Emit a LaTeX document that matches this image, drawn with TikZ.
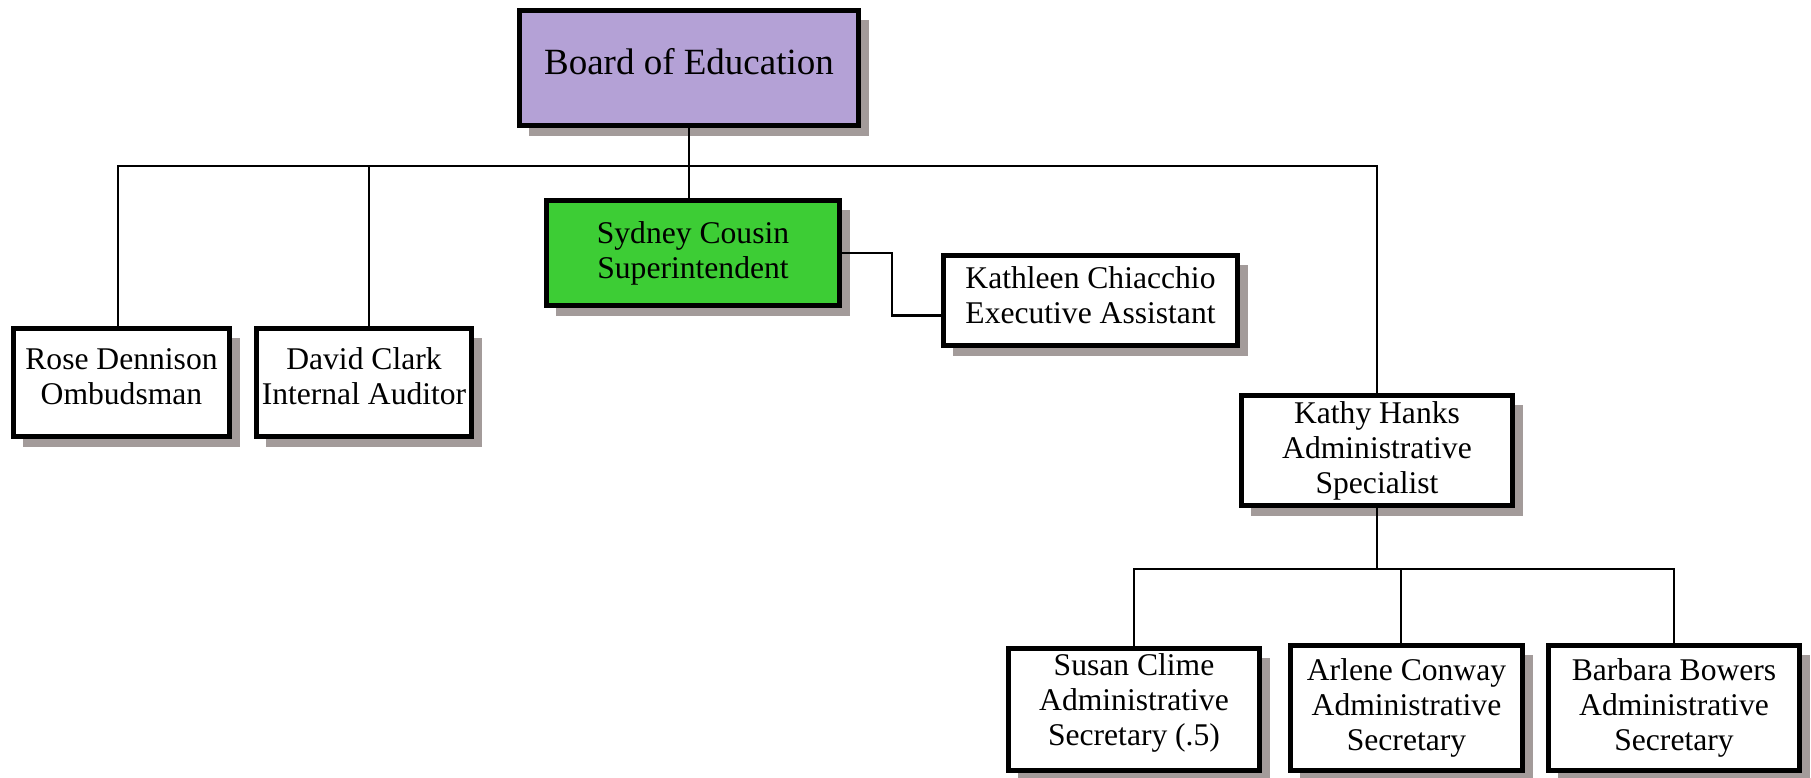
\documentclass[tikz,border=0pt]{standalone}
\usepackage{fontspec}
\setmainfont{Liberation Serif}
\usetikzlibrary{shadows}

\definecolor{boardpurple}{RGB}{180,161,214}
\definecolor{supgreen}{RGB}{61,205,53}
\definecolor{shadowgray}{RGB}{163,155,154}

\begin{document}
\begin{tikzpicture}[x=0.5pt, y=-0.5pt,
    orgbox/.style={draw=black, line width=2.4pt, fill=white, inner sep=0pt, align=center,
        font=\fontsize{15.8}{17.5}\selectfont,
        general shadow={fill=shadowgray, shadow xshift=5pt, shadow yshift=-5pt}},
    link/.style={line width=1.4pt}]
    % pixel grid of the 1811 x 777 picture
    \useasboundingbox (0, 0) rectangle (1811, 777);

    % top row:
    \node[orgbox, fill=boardpurple, font=\fontsize{18.5}{20}\selectfont, text depth=7pt,
        minimum width=169.6pt, minimum height=57.6pt] (board) at (689, 68) {Board of Education};
    \node[orgbox, fill=supgreen, minimum width=146.6pt, minimum height=52.6pt] (supt) at (693, 253)
        {Sydney Cousin\\Superintendent};
    \node[orgbox, text depth=5pt, minimum width=147.1pt, minimum height=45.1pt] (exec) at (1090.5, 300.5)
        {Kathleen Chiacchio\\Executive Assistant};

    % staff under the board:
    \node[orgbox, text depth=6pt, minimum width=108.1pt, minimum height=54.1pt] (ombuds) at (121.5, 382.5)
        {Rose Dennison\\Ombudsman};
    \node[orgbox, text depth=6pt, minimum width=107.6pt, minimum height=54.1pt] (auditor) at (364, 382.5)
        {David Clark\\Internal Auditor};
    \node[orgbox, minimum width=135.6pt, minimum height=55.1pt] (hanks) at (1377, 450.5)
        {Kathy Hanks\\Administrative\\Specialist};

    % secretaries:
    \node[orgbox, text depth=10pt, minimum width=125.6pt, minimum height=61.1pt] (clime) at (1134, 709.5)
        {Susan Clime\\Administrative\\Secretary (.5)};
    \node[orgbox, minimum width=116.1pt, minimum height=62.6pt] (conway) at (1406.5, 708)
        {Arlene Conway\\Administrative\\Secretary};
    \node[orgbox, minimum width=125.6pt, minimum height=62.6pt] (bowers) at (1674, 708)
        {Barbara Bowers\\Administrative\\Secretary};

    % buses
    \coordinate (bus) at (689, 166);
    \coordinate (subbus) at (1377, 569);

    \draw[link] (board.south) -- (board.south |- supt.north);
    \draw[link] ([xshift=-1.75pt]ombuds.north) |- (bus) -| (hanks.north);
    \draw[link] ([xshift=2.5pt]auditor.north) -- ([xshift=2.5pt]auditor.north |- bus);
    \draw[link] (supt.east) -- ++(50, 0) |- ([yshift=-7.5pt]exec.west);

    \draw[link] (hanks.south) -- (hanks.south |- subbus);
    \draw[link] (clime.north) |- (subbus) -| (bowers.north);
    \draw[link] ([xshift=-2.75pt]conway.north) -- ([xshift=-2.75pt]conway.north |- subbus);
\end{tikzpicture}
\end{document}
